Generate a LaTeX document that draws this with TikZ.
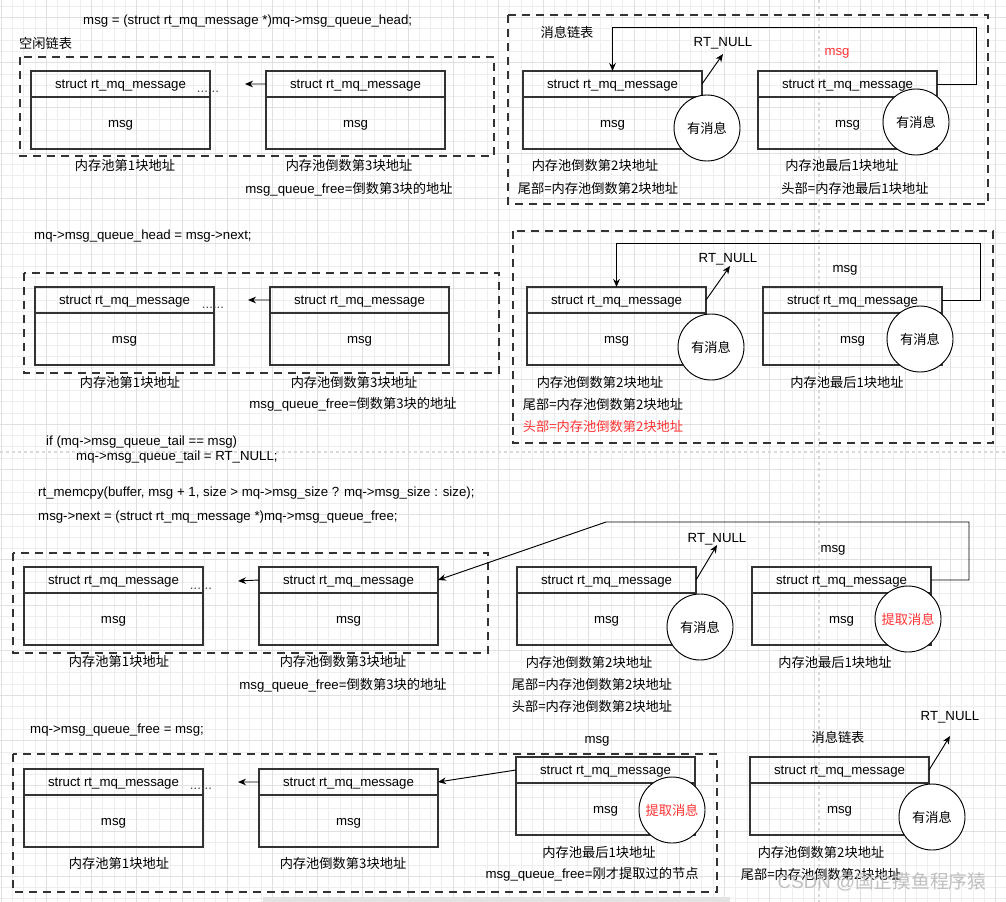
\documentclass[tikz,border=0pt]{standalone}
\usepackage{fontspec}
\setmainfont{Liberation Sans}
\newfontfamily\cjk{Noto Sans CJK SC}
\usepackage{tikz}
\usetikzlibrary{positioning,arrows.meta}
\definecolor{linegray}{RGB}{51,51,51}
\definecolor{hotred}{RGB}{255,51,51}
\definecolor{gridfine}{RGB}{238,238,238}
\definecolor{gridbold}{RGB}{224,224,224}

\begin{document}
\begin{tikzpicture}[x=0.03cm, y=-0.03cm,
        every node/.style = {font=\fontsize{11.3}{13}\selectfont},
        hdr/.style = {draw=linegray, line width=0.9pt, rectangle, anchor=north west, text height=0.95em,
                      minimum width=5.37cm, minimum height=0.78cm, inner sep=0pt, outer sep=0pt},
        bdy/.style = {draw=linegray, line width=0.9pt, rectangle, text height=0.95em,
                      minimum width=5.37cm, minimum height=1.56cm, inner sep=0pt, outer sep=0pt},
        bubble/.style = {draw, circle, fill=white, line width=0.8pt, minimum size=1.98cm, inner sep=0pt},
        lbl/.style = {inner sep=0pt},
        code/.style = {inner sep=0pt, anchor=west},
        frame/.style = {draw=linegray, line width=0.9pt, dash pattern=on 0.24cm off 0.18cm},
        pageln/.style = {draw=gray!30, line width=0.9pt, dash pattern=on 0.09cm off 0.09cm},
        arr/.style = {-{Stealth[length=2.4mm,width=2mm]}, line width=0.8pt},
        dots/.style = {inner sep=0pt, anchor=base, text=black!70}]
    \useasboundingbox (0,0) rectangle (1006,902);
    \fill[white] (0,0) rectangle (1006,902);
    \foreach \i in {0,...,88} \draw[gridfine, line width=0.5pt] ({1+11.3*\i},0) -- ({1+11.3*\i},902);
    \foreach \j in {0,...,79} \draw[gridfine, line width=0.5pt] (0,{6+11.3*\j}) -- (1006,{6+11.3*\j});
    \foreach \i in {0,4,...,88} \draw[gridbold, line width=0.5pt] ({1+11.3*\i},0) -- ({1+11.3*\i},902);
    \foreach \j in {1,5,...,77} \draw[gridbold, line width=0.5pt] (0,{6+11.3*\j}) -- (1006,{6+11.3*\j});
    \draw[pageln] (819,0) -- (819,902);
    \draw[pageln] (0,452) -- (1006,452);
    \fill[gray!22] (263,897) rectangle (730,902);

    \draw[frame] (20,57) rectangle (494,156);
    \draw[frame] (508,15) rectangle (988,204);
    \draw[frame] (24,273) rectangle (499,373);
    \draw[frame] (513,231) rectangle (993,443);
    \draw[frame] (13,553) rectangle (488,653);
    \draw[frame] (13,754) rectangle (717,892);

    \foreach \n/\x/\y in {p1a/31/71, p1b/266/71, p2a/523/71, p2b/758/71,
                          p3a/35/287, p3b/270/287, p4a/527/287, p4b/763/287,
                          p5a/24/567, p5b/259/567, p6a/517/567, p6b/752/567,
                          p7a/24/769, p7b/259/769, p7c/516/757, p8a/750/757} {
        \node[hdr] (\n-hd) at (\x,\y) {struct rt\_mq\_message};
        \node[bdy, below=0pt of \n-hd] (\n-bd) {msg};
    }

    \node[code] (c1) at (83,21) {msg = (struct rt\_mq\_message *)mq->msg\_queue\_head;};
    \node[code] (free1) at (19,43) {\cjk 空闲链表};
    \node[dots] (d1) at (208,92.5) {......};
    \coordinate (p1nx) at (245,84);
    \draw[arr] (p1b-hd.west) -- (p1nx);
    \node[lbl] (p1la) at (125,165) {\cjk 内存池第1块地址};
    \node[lbl] (p1lb) at (349,165) {\cjk 内存池倒数第3块地址};
    \node[lbl] (p1fr) at (349,189) {msg\_queue\_free={\cjk 倒数第3块的地址}};

    \node[lbl] (list2) at (567,32) {\cjk 消息链表};
    \node[bubble] (p2ca) at (707,128) {\cjk 有消息};
    \node[bubble] (p2cb) at (916,122) {\cjk 有消息};
    \node[lbl] (p2null) at (723,43) {RT\_NULL};
    \coordinate (p2nl) at (723,54);
    \draw[arr] (p2a-hd.east) -- (p2nl);
    \coordinate (p2up) at (976,27);
    \draw[arr] (p2b-hd.east) -| (p2up) -| (p2a-hd.north);
    \node[lbl, text=hotred] (p2msg) at (837,53) {msg};
    \node[lbl] (p2la) at (595,165) {\cjk 内存池倒数第2块地址};
    \node[lbl] (p2ta) at (598,188) {\cjk 尾部=内存池倒数第2块地址};
    \node[lbl] (p2lb) at (842,165) {\cjk 内存池最后1块地址};
    \node[lbl] (p2he) at (855,188) {\cjk 头部=内存池最后1块地址};

    \node[code] (c2) at (34,236) {mq->msg\_queue\_head = msg->next;};
    \node[dots] (d3) at (213,308.5) {......};
    \coordinate (p3nx) at (248,300);
    \draw[arr] (p3b-hd.west) -- (p3nx);
    \node[lbl] (p3la) at (130,382) {\cjk 内存池第1块地址};
    \node[lbl] (p3lb) at (354,382) {\cjk 内存池倒数第3块地址};
    \node[lbl] (p3fr) at (353,404) {msg\_queue\_free={\cjk 倒数第3块的地址}};

    \node[bubble] (p4ca) at (711,347) {\cjk 有消息};
    \node[bubble] (p4cb) at (920,339) {\cjk 有消息};
    \node[lbl] (p4null) at (728,259) {RT\_NULL};
    \coordinate (p4nl) at (730,266);
    \draw[arr] (p4a-hd.east) -- (p4nl);
    \coordinate (p4up) at (980,243);
    \draw[arr] (p4b-hd.east) -| (p4up) -| (p4a-hd.north);
    \node[lbl] (p4msg) at (845,270) {msg};
    \node[lbl] (p4la) at (600,382) {\cjk 内存池倒数第2块地址};
    \node[lbl] (p4ta) at (603,404) {\cjk 尾部=内存池倒数第2块地址};
    \node[lbl, text=hotred] (p4he) at (603,426) {\cjk 头部=内存池倒数第2块地址};
    \node[lbl] (p4lb) at (847,382) {\cjk 内存池最后1块地址};

    \node[code] (c3) at (46,442) {if (mq->msg\_queue\_tail == msg)};
    \node[code] (c4) at (76,457) {mq->msg\_queue\_tail = RT\_NULL;};
    \node[code] (c5) at (38,493) {rt\_memcpy(buffer, msg + 1, size > mq->msg\_size ? mq->msg\_size : size);};
    \node[code] (c6) at (38,517) {msg->next = (struct rt\_mq\_message *)mq->msg\_queue\_free;};
    \node[dots] (d5) at (201,589) {......};
    \coordinate (p5nx) at (238,581);
    \draw[arr] (p5b-hd.west) -- (p5nx);
    \node[lbl] (p5la) at (119,661) {\cjk 内存池第1块地址};
    \node[lbl] (p5lb) at (343,661) {\cjk 内存池倒数第3块地址};
    \node[lbl] (p5fr) at (343,685) {msg\_queue\_free={\cjk 倒数第3块的地址}};

    \node[bubble] (p6ca) at (700,627) {\cjk 有消息};
    \node[bubble, text=hotred] (p6cb) at (908,619) {\cjk 提取消息};
    \node[lbl] (p6null) at (717,539) {RT\_NULL};
    \coordinate (p6nl) at (717,545);
    \draw[arr] (p6a-hd.east) -- (p6nl);
    \coordinate (p6up) at (969,522);
    \coordinate (p6bend) at (606,522);
    \draw[arr] (p6b-hd.east) -| (p6up) -- (p6bend) -- (p5b-hd.east);
    \node[lbl] (p6msg) at (833,550) {msg};
    \node[lbl] (p6la) at (589,662) {\cjk 内存池倒数第2块地址};
    \node[lbl] (p6ta) at (592,684) {\cjk 尾部=内存池倒数第2块地址};
    \node[lbl] (p6he) at (592,706) {\cjk 头部=内存池倒数第2块地址};
    \node[lbl] (p6lb) at (835,662) {\cjk 内存池最后1块地址};

    \node[code] (c7) at (30,730) {mq->msg\_queue\_free = msg;};
    \node[dots] (d7) at (201,789.5) {......};
    \coordinate (p7nx) at (238,782);
    \draw[arr] (p7b-hd.west) -- (p7nx);
    \draw[arr] (p7c-hd.west) -- (p7b-hd.east);
    \node[bubble, text=hotred] (p7cc) at (672,810) {\cjk 提取消息};
    \node[lbl] (p7msg) at (597,741) {msg};
    \node[lbl] (p7la) at (119,863) {\cjk 内存池第1块地址};
    \node[lbl] (p7lb) at (343,863) {\cjk 内存池倒数第3块地址};
    \node[lbl] (p7lc) at (599,852) {\cjk 内存池最后1块地址};
    \node[lbl] (p7fr) at (592,874) {msg\_queue\_free={\cjk 刚才提取过的节点}};

    \node[lbl] (list8) at (838,737) {\cjk 消息链表};
    \node[bubble] (p8ca) at (932,817) {\cjk 有消息};
    \node[lbl] (p8null) at (950,717) {RT\_NULL};
    \coordinate (p8nl) at (950,736);
    \draw[arr] (p8a-hd.east) -- (p8nl);
    \node[lbl] (p8la) at (821,852) {\cjk 内存池倒数第2块地址};
    \node[lbl] (p8ta) at (821,874) {\cjk 尾部=内存池倒数第2块地址};

    \node[lbl, text=gray!50, font=\fontsize{16}{18}\selectfont] (mark) at (882,882) {CSDN @{\cjk 国企摸鱼程序猿}};
\end{tikzpicture}
\end{document}
